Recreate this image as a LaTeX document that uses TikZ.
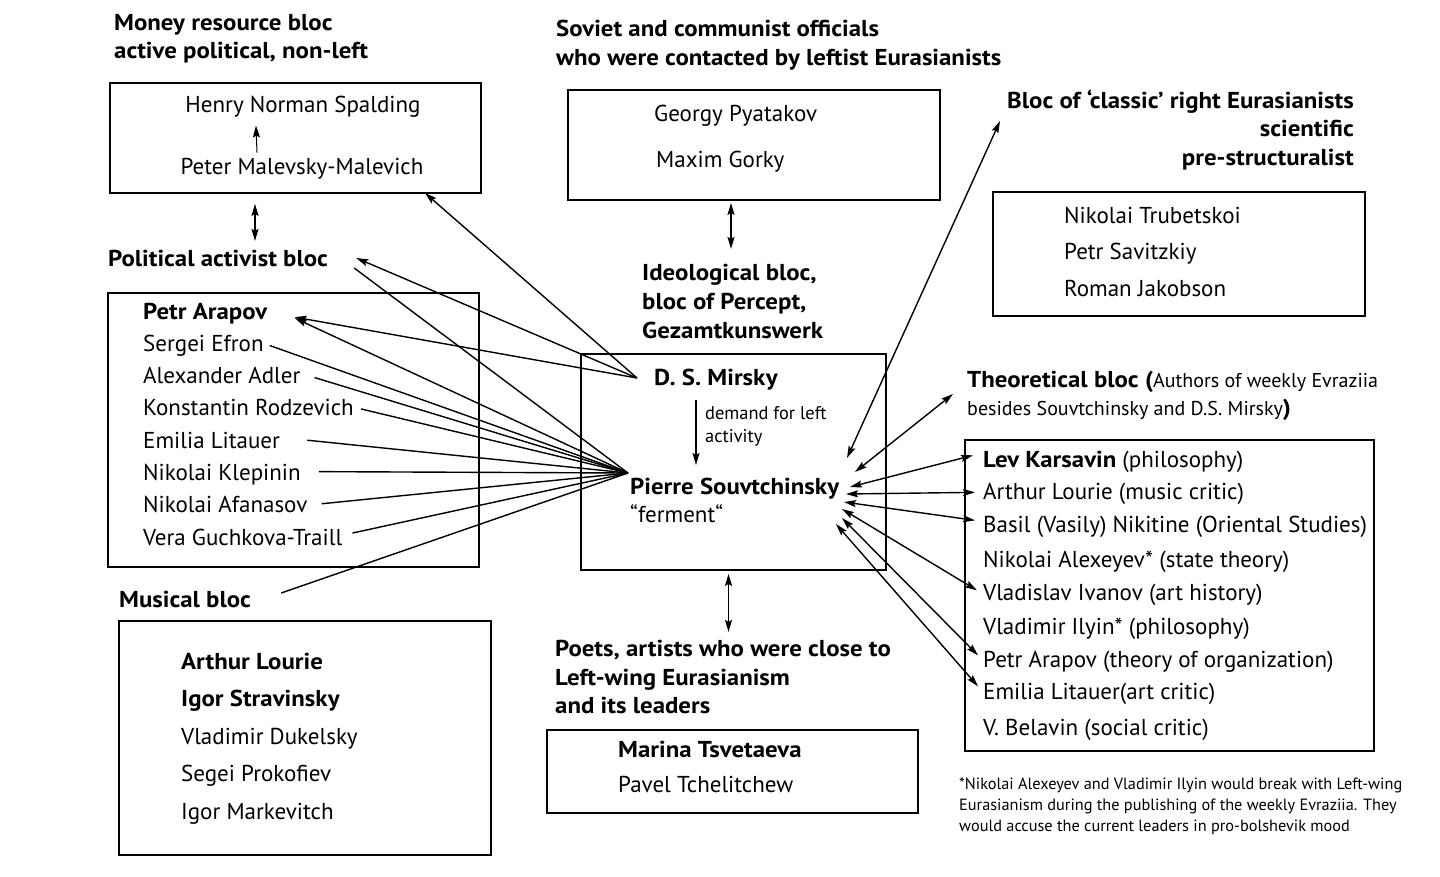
\documentclass[tikz,border=0pt]{standalone}
\usepackage{fontspec}
\setmainfont{PT Sans}[BoldFeatures={FakeStretch=1.08}]
\usetikzlibrary{arrows.meta, positioning}

\begin{document}
\begin{tikzpicture}[x=1pt, y=-1pt,
    >={Stealth[length=12pt, width=7pt, inset=2pt]},
    box/.style = {draw, line width=1.8pt, inner sep=0pt},
    person/.style = {anchor=base west, inner sep=0pt, font=\fontsize{23}{27}\selectfont},
    head/.style = {person, font=\fontsize{23}{27}\selectfont\bfseries},
    note/.style = {anchor=base west, inner sep=0pt, font=\fontsize{18.4}{21}\selectfont},
    link/.style = {line width=1.4pt}]
  \useasboundingbox (0,0) rectangle (1440,876);

  % money resource bloc
  \node[head] (money1) at (114,30) {Money resource bloc};
  \node[head] (money2) at (114,58) {active political, non-left};
  \node[box, minimum width=371pt, minimum height=110pt] (moneybox) at (295.5,138) {};
  \node[person, anchor=base] (spalding) at (303,112) {Henry Norman Spalding};
  \node[person, anchor=base] (malevich) at (302,174) {Peter Malevsky-Malevich};
  \draw[->, line width=1pt] ([xshift=-45pt, yshift=5pt]malevich.north) -- ++(-1,-27);

  % political activist bloc
  \node[head] (polit) at (108,266) {Political activist bloc};
  \draw[<->, link] ([xshift=-40.5pt, yshift=-10pt]moneybox.south) -- ++(0,37);
  \node[box, minimum width=371pt, minimum height=274pt] (politbox) at (293.5,430) {};
  \foreach \t [count=\i] in {\textbf{Petr Arapov}, Sergei Efron, Alexander Adler,
      Konstantin Rodzevich, Emilia Litauer, Nikolai Klepinin, Nikolai Afanasov,
      Vera Guchkova-Traill}
    \node[person] (pa-\i) at (143, {319+32.3*(\i-1)}) {\t};

  % musical bloc
  \node[head] (music) at (119,607) {Musical bloc};
  \node[box, minimum width=372pt, minimum height=234pt] (musicbox) at (305,738) {};
  \foreach \t [count=\i] in {\textbf{Arthur Lourie}, \textbf{Igor Stravinsky},
      Vladimir Dukelsky, Segei Prokofiev, Igor Markevitch}
    \node[person] (mu-\i) at (181, {669+37.5*(\i-1)}) {\t};

  % soviet officials
  \node[head] (sov1) at (556,36) {Soviet and communist officials};
  \node[head] (sov2) at (556,65) {who were contacted by leftist Eurasianists};
  \node[box, minimum width=372pt, minimum height=110pt] (sovbox) at (754,145) {};
  \node[person] (pyatakov) at (654,121) {Georgy Pyatakov};
  \node[person] (gorky) at (656,167) {Maxim Gorky};
  \draw[<->, link] ([xshift=-23pt, yshift=-2pt]sovbox.south) -- ++(0,46);

  % ideological bloc
  \node[head] (ideo1) at (642,280) {Ideological bloc,};
  \node[head] (ideo2) at (642,309) {bloc of Percept,};
  \node[head] (ideo3) at (642,338) {Gezamtkunswerk};
  \node[box, minimum width=305pt, minimum height=216pt] (ideobox) at (733.5,462) {};
  \node[head] (mirsky) at (654,385) {D. S. Mirsky};
  \node[note] (demand1) at (705,419) {demand for left};
  \node[note] (demand2) at (705,442) {activity};
  \node[head] (souv) at (630,494) {Pierre Souvtchinsky};
  \node[person] (ferment) at (630,522) {“ferment“};
  \draw[->, link] (696,400) coordinate (dm) -- (696,465) coordinate (ds);

  % poets
  \node[head] (poet1) at (555,656) {Poets, artists who were close to};
  \node[head] (poet2) at (555,685) {Left-wing Eurasianism};
  \node[head] (poet3) at (555,713) {and its leaders};
  \node[box, minimum width=371pt, minimum height=83pt] (poetbox) at (732.5,771.5) {};
  \node[head] (tsvet) at (618,757) {Marina Tsvetaeva};
  \node[person] (tchel) at (618,792) {Pavel Tchelitchew};
  \draw[<->, link] ([xshift=-5pt, yshift=-3pt]ideobox.south) -- ++(0,58);

  % classic right bloc
  \node[head, anchor=base east] (class1) at (1354,108) {Bloc of ‘classic’ right Eurasianists};
  \node[head, anchor=base east] (class2) at (1354,136) {scientific};
  \node[head, anchor=base east] (class3) at (1354,165) {pre-structuralist};
  \node[box, minimum width=372pt, minimum height=124pt] (classbox) at (1179,254) {};
  \foreach \t [count=\i] in {Nikolai Trubetskoi, Petr Savitzkiy, Roman Jakobson}
    \node[person] (cl-\i) at (1064, {223+36.5*(\i-1)}) {\t};

  % theoretical bloc
  \node[head] (theo1) at (967,387) {Theoretical bloc (\mdseries\fontsize{20}{23}\selectfont Authors of weekly Evraziia};
  \node[note, font=\fontsize{20}{23}\selectfont] (theo2) at (967,415)
    {besides Souvtchinsky and D.S. Mirsky\textbf{\fontsize{23}{27}\selectfont)}};
  \node[box, minimum width=409pt, minimum height=311pt] (theobox) at (1169.5,595.5) {};
  \foreach \t/\y [count=\i] in {{\textbf{Lev Karsavin} (philosophy)}/467,
      Arthur Lourie (music critic)/499, Basil (Vasily) Nikitine (Oriental Studies)/532,
      Nikolai Alexeyev* (state theory)/567, Vladislav Ivanov (art history)/600,
      Vladimir Ilyin* (philosophy)/634, Petr Arapov (theory of organization)/667,
      Emilia Litauer(art critic)/699, V. Belavin (social critic)/735}
    \node[person] (th-\i) at (983,\y) {\t};

  % footnote
  \foreach \t/\y [count=\i] in {*Nikolai Alexeyev and Vladimir Ilyin would break with Left-wing/789,
      Eurasianism during the publishing of the weekly Evraziia. They/810,
      would accuse the current leaders in pro-bolshevik mood/831}
    \node[note, font=\fontsize{16.3}{20}\selectfont] (fn-\i) at (959,\y) {\t};

  % meeting points of the fans
  \coordinate (msk) at (637,378);
  \coordinate (psv) at (628,473);

  % Mirsky
  \path[->, link] (msk) edge ([xshift=-57pt, yshift=1pt]moneybox.south east)
                  (msk) edge ([xshift=28pt]polit.east)
                  (msk) edge ([xshift=27pt, yshift=-4pt]pa-1.east)
                  (psv) edge ([xshift=27pt, yshift=-5pt]pa-1.east);

  % Souvtchinsky, left side
  \draw[link] (psv) -- ([xshift=26pt, yshift=-10pt]polit.east);
  \foreach \i/\dx/\dy in {2/6/0, 3/14/-2, 4/7/-1, 5/27/0, 6/18/3, 7/14/1, 8/10/4}
    \draw[link] ([xshift=\dx pt, yshift=\dy pt]pa-\i.east) -- (psv);
  \draw[link] ([xshift=30pt, yshift=6pt]music.east) -- (psv);

  % Souvtchinsky, right side
  \coordinate (cl-tip) at (1000,121);
  \coordinate (th-tip) at (953,394);
  \draw[<->, link] (847,458) coordinate (sv-0) -- (cl-tip);
  \draw[<->, link] (855,472) coordinate (sv-t) -- (th-tip);
  \foreach \sx/\sy/\i/\dx/\dy in {850/487/1/-10/6, 846/494/2/-8/1, 844/502/3/-8/6,
      842/509/5/-6/4, 842/518/7/-5/6, 836/524/8/-5/7}
    \draw[<->, link] (\sx,\sy) coordinate (sv-\i) -- ([xshift=\dx pt, yshift=\dy pt]th-\i.west);
\end{tikzpicture}
\end{document}
